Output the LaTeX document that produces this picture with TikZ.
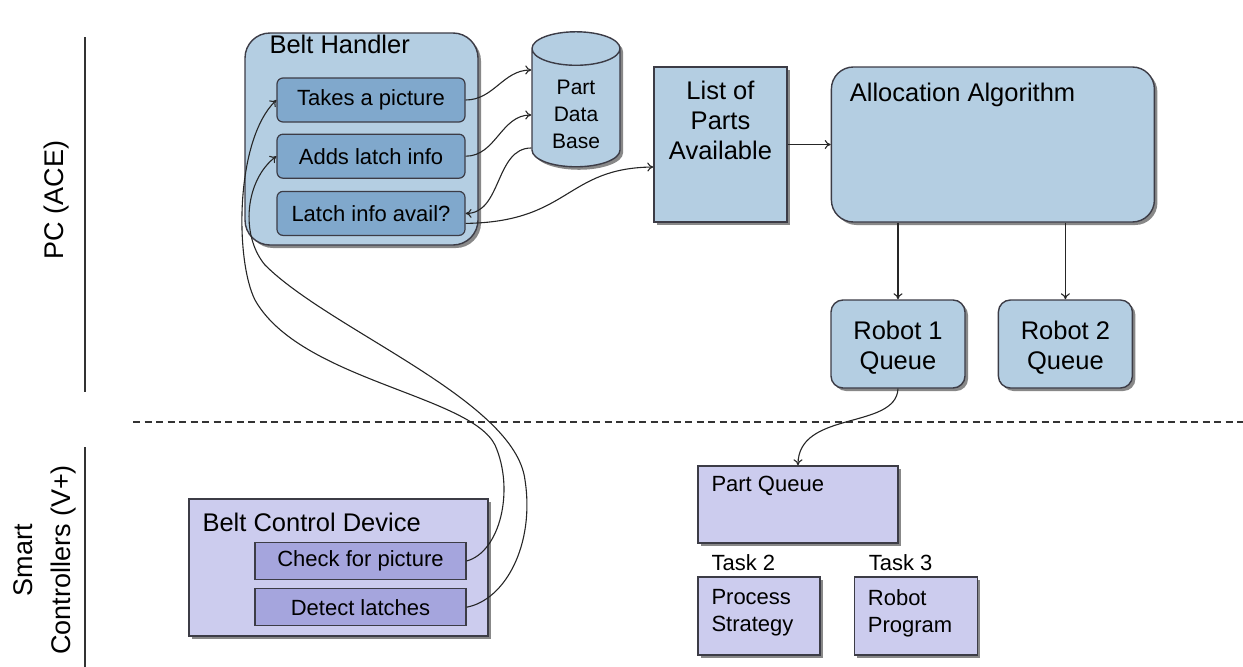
\documentclass[tikz,border=0pt]{standalone}
\usepackage{fontspec}
\setmainfont{Liberation Sans}
\usetikzlibrary{arrows.meta,positioning,shapes.geometric,shadows}
\definecolor{BeltBlue}{HTML}{B4CEE2}
\definecolor{TaskBlue}{HTML}{80A8CC}
\definecolor{CtrlLilac}{HTML}{CCCCEE}
\definecolor{StepLilac}{HTML}{A5A5DD}
\definecolor{EdgeGrey}{HTML}{3C3C46}
\tikzset{
  boxshadow/.style={drop shadow={shadow xshift=3pt,shadow yshift=-3pt,fill=black!55,opacity=.85}},
  pcbox/.style={draw=EdgeGrey,line width=1.4pt,fill=BeltBlue,boxshadow,inner sep=0pt},
  pcstep/.style={draw=EdgeGrey,line width=1.2pt,fill=TaskBlue,rounded corners=6pt,
    minimum width=188pt,minimum height=44pt,inner sep=0pt,font=\fontsize{22}{26}\selectfont},
  ctrlbox/.style={draw=EdgeGrey,line width=1.4pt,fill=CtrlLilac,boxshadow,inner sep=0pt},
  ctrlstep/.style={draw=EdgeGrey,line width=1.2pt,fill=StepLilac,minimum width=211pt,
    minimum height=37pt,inner sep=0pt,font=\fontsize{22}{26}\selectfont},
  boxtitle/.style={inner sep=0pt,font=\fontsize{25.5}{30}\selectfont},
  tasktext/.style={inner sep=0pt,font=\fontsize{22}{27}\selectfont},
  side/.style={inner sep=0pt,rotate=90,align=center,font=\fontsize{27}{38}\selectfont},
  flow/.style={-{To[length=6pt,width=9pt]},line width=1.1pt,draw=black!85},
  divider/.style={line width=1.2pt,draw=black!80}
}
\begin{document}
\begin{tikzpicture}[x=1pt,y=-1pt]
  \useasboundingbox (0,0) rectangle (1243,667);
  % sections
  \node[side] (pc) at (57,200) {PC (ACE)};
  \node[side] (sc) at (45,560) {Smart\\Controllers (V+)};
  \coordinate (pctop) at (85,37); \coordinate (pcbot) at (85,392);
  \coordinate (sctop) at (85,447); \coordinate (scbot) at (85,667);
  \coordinate (sepl) at (133,422); \coordinate (sepr) at (1243,422);
  \draw[divider] (pctop) -- (pcbot);
  \draw[divider] (sctop) -- (scbot);
  \draw[divider,dash pattern=on 7pt off 4.5pt] (sepl) -- (sepr);

  % PC side
  \node[pcbox,rounded corners=25pt,minimum width=233pt,minimum height=212pt] (bh) at (361.5,139) {};
  \node[boxtitle,anchor=west] (bhtext) at ([xshift=25pt,yshift=-12pt]bh.north west) {Belt Handler};
  \node[pcstep] (takes) at (371,100) {Takes a picture};
  \node[pcstep,below=11pt of takes] (adds) {Adds latch info};
  \node[pcstep,below=12pt of adds] (latch) {Latch info avail?};
  \node[cylinder,shape border rotate=90,aspect=0.7,draw=EdgeGrey,line width=1.4pt,fill=BeltBlue,boxshadow,
    minimum width=88pt,minimum height=135pt,inner sep=0pt,align=center,
    font=\fontsize{21}{27}\selectfont] (db) at (576,108) {\mbox{}\\Part\\Data\\Base};
  \node[pcbox,minimum width=133pt,minimum height=155pt] (list) at (720.5,144.5) {};
  \node[boxtitle,anchor=north,align=center] (listtext) at ([yshift=-15pt]list.north) {List of\\Parts\\Available};
  \node[pcbox,rounded corners=22pt,minimum width=323pt,minimum height=155pt,right=43pt of list] (alloc) {};
  \node[boxtitle,anchor=west] (alloctext) at ([xshift=19pt,yshift=-29pt]alloc.north west) {Allocation Algorithm};
  \node[pcbox,rounded corners=12pt,minimum width=134pt,minimum height=88pt] (robot1) at (898,344) {};
  \node[pcbox,rounded corners=12pt,minimum width=134pt,minimum height=88pt,right=32pt of robot1] (robot2) {};
  \node[boxtitle,align=center] (r1text) at ([yshift=-4pt]robot1.center) {Robot 1\\Queue};
  \node[boxtitle,align=center] (r2text) at ([yshift=-4pt]robot2.center) {Robot 2\\Queue};

  % controller side
  \node[ctrlbox,minimum width=299pt,minimum height=137pt] (bcd) at (338.5,567.5) {};
  \node[boxtitle,anchor=west] (bcdtext) at ([xshift=14pt,yshift=-24pt]bcd.north west) {Belt Control Device};
  \node[ctrlstep] (check) at (360.5,561) {Check for picture};
  \node[ctrlstep,below=8pt of check] (detect) {Detect latches};
  \node[ctrlbox,minimum width=200pt,minimum height=77pt] (pq) at (798,504.5) {};
  \node[tasktext,anchor=west] (pqtext) at ([xshift=14pt,yshift=-21pt]pq.north west) {Part Queue};
  \node[ctrlbox,minimum width=122pt,minimum height=78pt] (ps) at (759,616) {};
  \node[ctrlbox,minimum width=123pt,minimum height=78pt,right=33pt of ps] (rp) {};
  \node[tasktext,anchor=west] (task2) at ([xshift=14pt,yshift=14pt]ps.north west) {Task 2};
  \node[tasktext,anchor=west] (task3) at ([xshift=15pt,yshift=14pt]rp.north west) {Task 3};
  \node[tasktext,anchor=north west,align=left] (pstext) at ([xshift=14pt,yshift=-13pt]ps.north west) {Process\\Strategy};
  \node[tasktext,anchor=north west,align=left] (rptext) at ([xshift=14pt,yshift=-13pt]rp.north west) {Robot\\Program};

  % connectors
  \draw[flow] (takes.east) to[out=0,in=180] ([yshift=38pt]db.west);
  \draw[flow] (adds.east) to[out=0,in=180] ([yshift=-7pt]db.west);
  \draw[flow] ([yshift=-40pt]db.west) to[out=180,in=0] (latch.east);
  \draw[flow] ([yshift=-10pt]latch.east) .. controls (570,222) and (565,168) .. ([yshift=-22.5pt]list.west);
  \draw[flow] (list.east) -- (alloc.west);
  \draw[flow] (alloc.south -| robot1.north) -- (robot1.north);
  \draw[flow] (alloc.south -| robot2.north) -- (robot2.north);
  \draw[flow] (robot1.south) .. controls (896,430) and (798,410) .. (pq.north);
  \draw[flow] (check.east) .. controls (500,552) and (515,490) .. (495,445)
    .. controls (470,395) and (300,380) .. (255,300)
    .. controls (235,260) and (235,140) .. (takes.west);
  \draw[flow] (detect.east) .. controls (505,600) and (535,545) .. (525,480)
    .. controls (515,400) and (330,330) .. (265,265)
    .. controls (240,235) and (245,180) .. (adds.west);
\end{tikzpicture}
\end{document}
